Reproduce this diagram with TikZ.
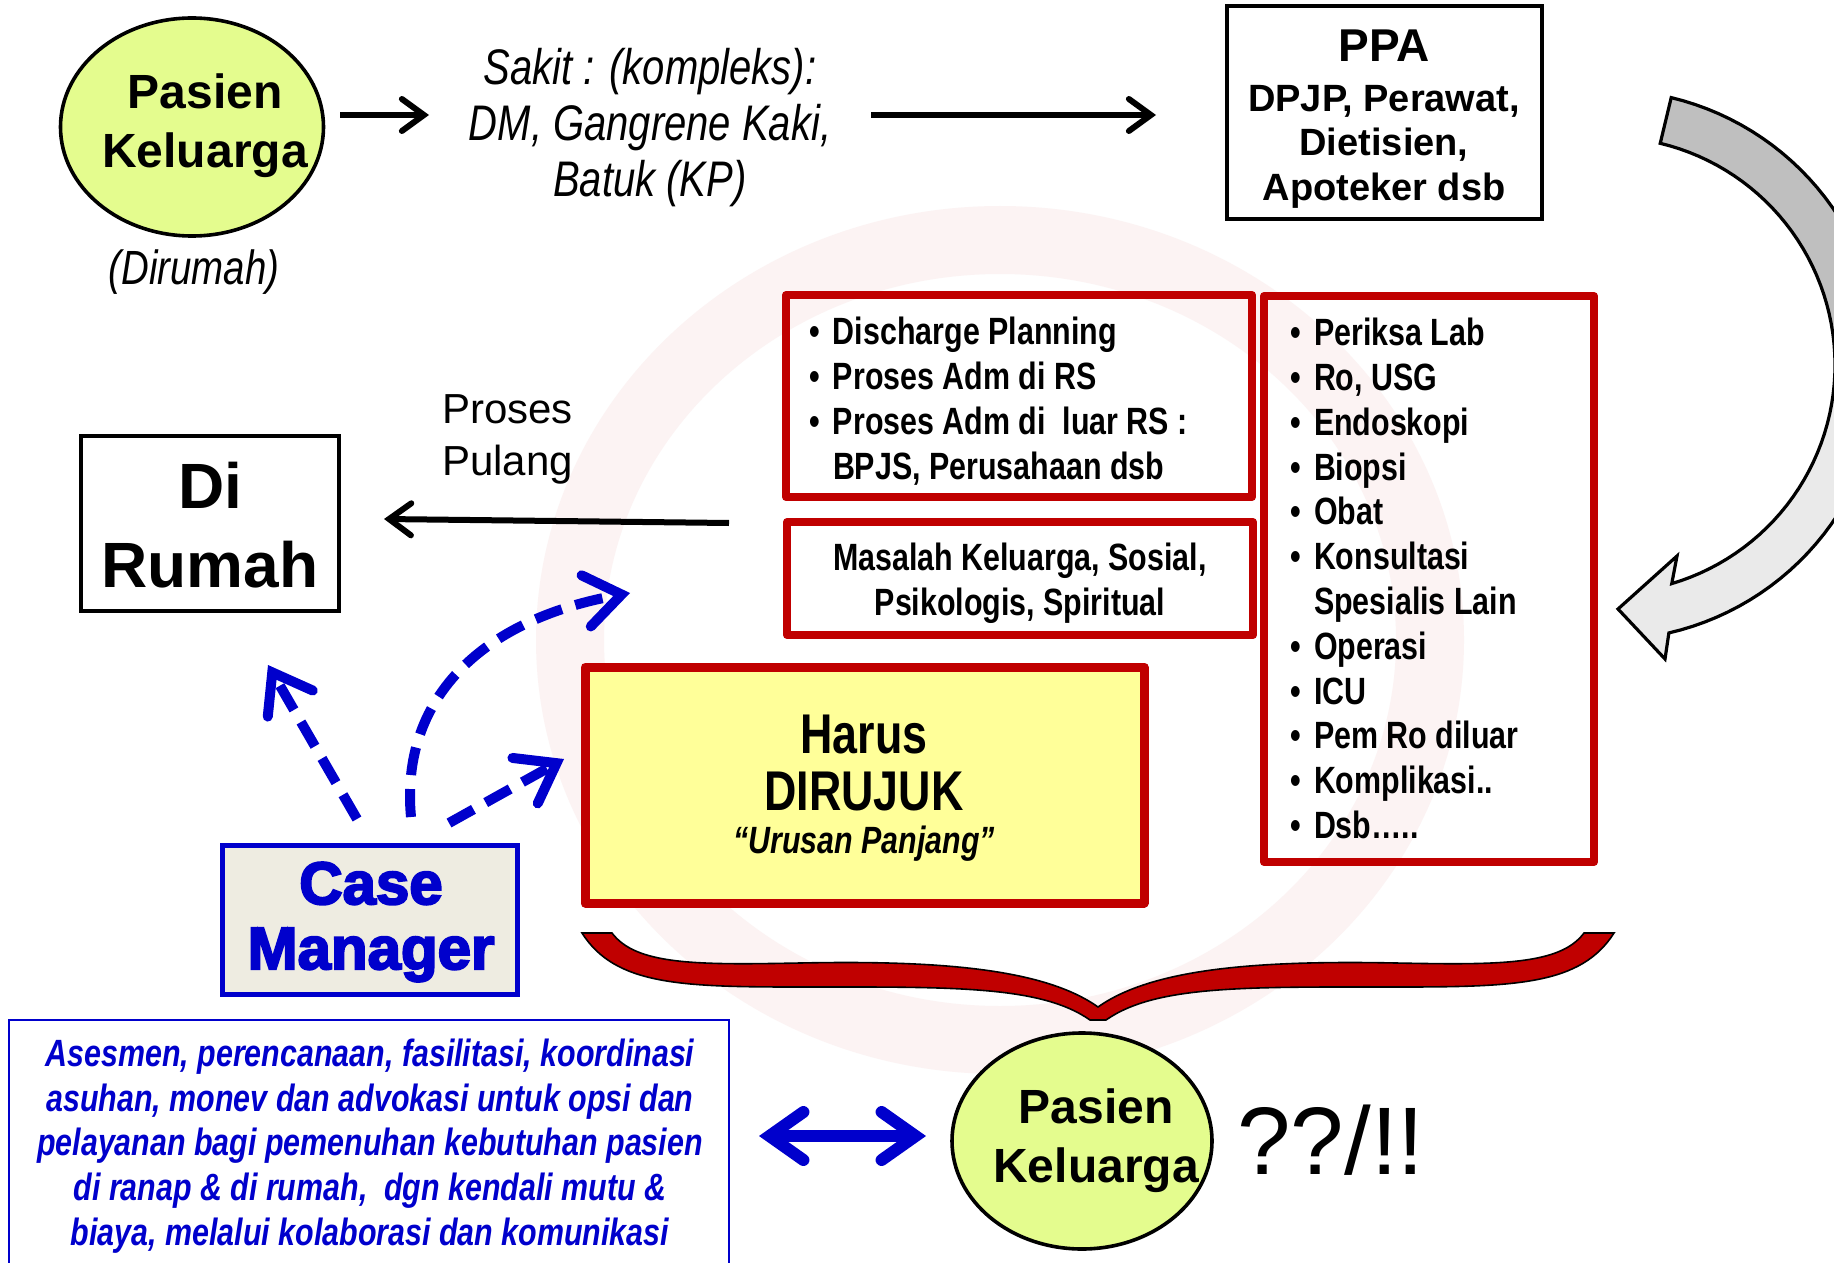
\documentclass[tikz,border=0pt]{standalone}
\usepackage{fontspec}
\setmainfont{Liberation Sans}
\newfontfamily\nar[FakeStretch=0.8]{Liberation Sans}
\newfontface\heavy[FakeBold=3.5]{Liberation Sans Bold}
\usetikzlibrary{arrows.meta,shapes.geometric,fit}

\definecolor{bordo}{RGB}{192,0,0}
\definecolor{cmblue}{RGB}{0,0,204}
\definecolor{pasienfill}{RGB}{228,252,142}
\definecolor{harusfill}{RGB}{255,255,153}
\definecolor{cmfill}{RGB}{238,236,225}
\definecolor{arcdark}{RGB}{191,191,191}
\definecolor{arclight}{RGB}{234,234,234}
\definecolor{wmark}{RGB}{252,243,243}

% font shortcuts
\newcommand\fEll{\fontsize{24}{29.5}\selectfont\bfseries}
\newcommand\fSakit{\fontsize{25}{28}\selectfont\nar\itshape}
\newcommand\fPPAbig{\fontsize{23}{27}\selectfont\bfseries}
\newcommand\fPPA{\fontsize{19}{22.3}\selectfont\bfseries}
\newcommand\fList{\fontsize{19}{22.4}\selectfont\nar\bfseries}
\newcommand\fRumah{\fontsize{32}{39.5}\selectfont\bfseries}
\newcommand\fPulang{\fontsize{21}{26}\selectfont}
\newcommand\fCase{\fontsize{30}{32.5}\selectfont\heavy}
\newcommand\fHarus{\fontsize{28}{33}\selectfont\nar\bfseries}
\newcommand\fUrusan{\fontsize{19}{22}\selectfont\nar\bfseries\itshape}
\newcommand\fDesc{\fontsize{19}{22.4}\selectfont\nar\bfseries\itshape}
\newcommand\bul{\makebox[12pt][l]{\textbullet}}

\begin{document}
\begin{tikzpicture}[x=0.5pt,y=-0.5pt,
  every node/.style={inner sep=0pt,outer sep=0pt},
  blkbox/.style={draw=black,line width=1.8pt},
  redbox/.style={draw=bordo,line width=4pt,line join=round},
  oval/.style={ellipse,draw=black,line width=1.8pt,fill=pasienfill},
  blkarrow/.style={line width=3pt,
    -{Straight Barb[length=11pt,width=16pt,line cap=round,line join=miter]}},
  cmarrow/.style={cmblue,line width=5pt,dash pattern=on 14pt off 7pt,
    -{Straight Barb[length=18pt,width=26pt,line cap=round,line join=miter]}},
  dblarrow/.style={cmblue,line width=6pt,
    {Straight Barb[length=17pt,width=24pt,line cap=round,line join=miter]}-%
    {Straight Barb[length=17pt,width=24pt,line cap=round,line join=miter]}}
]
\useasboundingbox (0,0) rectangle (1834,1262);
\clip (0,0) rectangle (1834,1262);
\fill[white] (0,0) rectangle (1834,1262);

% faint logo ring in the background
\draw[wmark,line width=34pt] (1000,640) ellipse [x radius=430,y radius=400];

% top row: patient -> illness -> care providers
\node[oval,minimum width=131.5pt,minimum height=109pt] (p1) at (192,127) {};
\node[font=\fEll,align=center] (p1t) at (205,126) {Pasien\\Keluarga};
\node[font=\fontsize{24}{28}\selectfont\nar\itshape] (home) at (194,272) {(Dirumah)};

\node[font=\fSakit,align=center] (sakit) at (650,128)
  {Sakit : (kompleks):\\DM, Gangrene Kaki,\\Batuk (KP)};

\node[blkbox,fit={(1227,6) (1542,219)}] (ppa) {};
\node[font=\fPPAbig] (ppat) at (1384,46) {PPA};
\node[font=\fPPA,align=center] (ppal) at (1384,146.5)
  {DPJP, Perawat,\\Dietisien,\\Apoteker dsb};

\coordinate (a1s) at (340,115);
\coordinate (a1e) at (429,115);
\coordinate (a2s) at (871,115);
\coordinate (a2e) at (1156,115);
\draw[blkarrow] (a1s) -- (a1e);
\draw[blkarrow] (a2s) -- (a2e);

% curved grey arrow on the right
\begin{scope}
  \def\arcpath{plot[domain=-76.5:77,samples=60] ({1607+275*cos(\x)},{365+275*sin(\x)})
    -- (1665,659) -- (1618,609) -- (1677,556)
    -- plot[domain=73.5:-76.5,samples=60] ({1607+228*cos(\x)},{365+228*sin(\x)}) -- cycle}
  \fill[arclight] \arcpath;
  \begin{scope}
    \clip (1500,0) rectangle (1834,365);
    \fill[arcdark] \arcpath;
  \end{scope}
  \draw[black,line width=1.6pt,line join=miter] \arcpath;
\end{scope}

% boxes in the middle
\node[redbox,fit={(786,295) (1252,497)}] (boxA) {};
\node[font=\fList,align=left,anchor=west] (boxAt) at (809,401)
  {\bul Discharge Planning\\
   \bul Proses Adm di RS\\
   \bul Proses Adm di\ \ luar RS :\\
   \hspace*{12pt}BPJS, Perusahaan dsb};

\node[redbox,fit={(787,522) (1253,635)}] (boxB) {};
\node[font=\fList,align=center] (boxBt) at (1020,583)
  {Masalah Keluarga, Sosial,\\Psikologis, Spiritual};

\node[redbox,fit={(1264,296) (1594,862)}] (boxC) {};
\node[font=\fList,align=left,anchor=west] (boxCt) at (1290,578.5)
  {\bul Periksa Lab\\
   \bul Ro, USG\\
   \bul Endoskopi\\
   \bul Biopsi\\
   \bul Obat\\
   \bul Konsultasi\\
   \hspace*{12pt}Spesialis Lain\\
   \bul Operasi\\
   \bul ICU\\
   \bul Pem Ro diluar\\
   \bul Komplikasi..\\
   \bul Dsb\dots..};

\node[redbox,line width=4.5pt,fill=harusfill,fit={(585,667) (1144,903)}] (harus) {};
\node[font=\fHarus] (harus1) at (864,735) {Harus};
\node[font=\fHarus] (harus2) at (864,792) {DIRUJUK};
\node[font=\fUrusan] (harus3) at (864,844) {“Urusan Panjang”};

% going home
\node[blkbox,fit={(81,436) (339,611)}] (rumah) {};
\node[font=\fRumah,align=center] (rumaht) at (210,525) {Di\\Rumah};
\node[font=\fPulang,align=left,anchor=west] (pulang) at (442,439) {Proses\\Pulang};
\coordinate (pps) at (729,523);
\coordinate (ppe) at (384,519);
\draw[blkarrow] (pps) -- (ppe);

% case manager and its links
\node[draw=cmblue,line width=2.5pt,fill=cmfill,fit={(222,845) (517,994)}] (cm) {};
\node[font=\fCase,text=cmblue,align=center] (cmt) at (371,922) {Case\\Manager};

\coordinate (cma) at (357,819);
\coordinate (cmae) at (268,665);
\coordinate (cmb) at (411,817);
\coordinate (cmbe) at (630,593);
\coordinate (cmc) at (449,823);
\coordinate (cmce) at (564,759);
\draw[cmarrow] (cma) -- (cmae);
\draw[cmarrow] (cmb) .. controls (400,700) and (480,620) .. (cmbe);
\draw[cmarrow] (cmc) -- (cmce);

% brace gathering the hospital tasks
\draw[fill=bordo,draw=black,line width=0.8pt]
  (582,933) .. controls (615,985) and (680,987) .. (800,987)
  .. controls (950,987) and (1040,985) .. (1090,1020) -- (1106,1020)
  .. controls (1156,985) and (1246,987) .. (1396,987)
  .. controls (1516,987) and (1581,985) .. (1614,933) -- (1584,933)
  .. controls (1560,965) and (1500,965) .. (1396,963)
  .. controls (1250,960) and (1150,970) .. (1098,1007)
  .. controls (1046,970) and (946,960) .. (800,963)
  .. controls (696,965) and (636,965) .. (612,933) -- cycle;

% bottom row
\node[draw=cmblue,line width=1.2pt,fit={(9,1020) (729,1300)}] (desc) {};
\node[font=\fDesc,text=cmblue,align=center] (desct) at (370,1146)
  {Asesmen, perencanaan, fasilitasi, koordinasi\\
   asuhan, monev dan advokasi untuk opsi dan\\
   pelayanan bagi pemenuhan kebutuhan pasien\\
   di ranap \& di rumah,\ \ dgn kendali mutu \&\\
   biaya, melalui kolaborasi dan komunikasi};

\node[oval,minimum width=130pt,minimum height=108pt] (p2) at (1082,1141) {};
\node[font=\fEll,align=center] (p2t) at (1096,1141) {Pasien\\Keluarga};
\node[font=\fontsize{48}{52}\selectfont] (qq) at (1331,1140) {??/!!};

\coordinate (dbl1) at (759,1136);
\coordinate (dbl2) at (926,1136);
\draw[dblarrow] (dbl1) -- (dbl2);
\end{tikzpicture}
\end{document}
